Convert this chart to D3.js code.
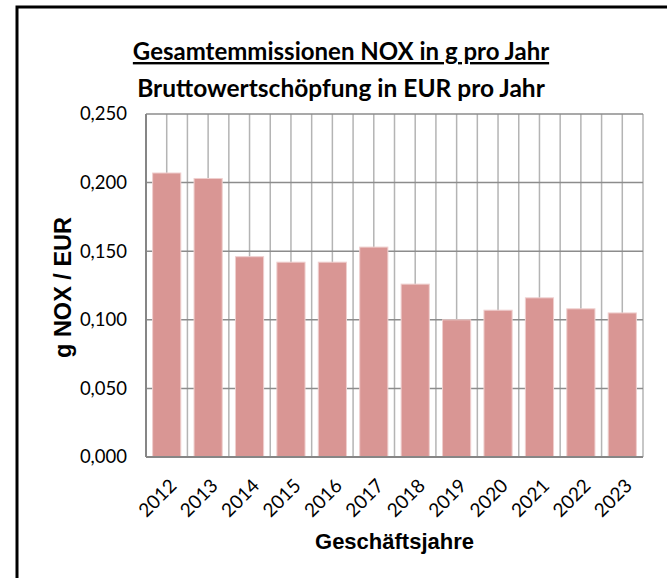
<!DOCTYPE html>
<html>
<head>
<meta charset="utf-8">
<script src="https://cdn.jsdelivr.net/npm/d3@7"></script>
<style>
  html, body { margin: 0; padding: 0; background: #fff; }
  svg { display: block; }
</style>
</head>
<body>
<div id="chart"></div>
<script>
// NOX emissions per euro of gross value added, by business year
const years = ["2012", "2013", "2014", "2015", "2016", "2017", "2018", "2019", "2020", "2021", "2022", "2023"];
const noxPerEur = [0.207, 0.203, 0.146, 0.142, 0.142, 0.153, 0.126, 0.100, 0.107, 0.116, 0.108, 0.105];
const yTicks = [0, 0.05, 0.10, 0.15, 0.20, 0.25];
const titleLines = ["Gesamtemmissionen NOX in g pro Jahr", "Bruttowertschöpfung in EUR pro Jahr"];
const yTitle = "g NOX / EUR";
const xTitle = "Geschäftsjahre";

const W = 667, H = 578;
const plot = { left: 146, right: 643, top: 114, bottom: 457 };
const uiFont = "Lato, 'Open Sans', sans-serif";
const boldFont = "'Liberation Sans', Arial, sans-serif";

const svg = d3.select("#chart").append("svg")
  .attr("width", W).attr("height", H);

svg.append("rect").attr("width", W).attr("height", H).attr("fill", "#fff");

// outer frame (left and top edges visible)
svg.append("path")
  .attr("d", `M17,${H} L17,7 L${W},7`)
  .attr("fill", "none").attr("stroke", "#000").attr("stroke-width", 3);

const x = d3.scaleBand().domain(years)
  .range([plot.left, plot.right])
  .paddingInner(0.32).paddingOuter(0.16);
const y = d3.scaleLinear().domain([0, 0.25]).range([plot.bottom, plot.top]);

const step = x.step();

// vertical grid: category boundaries and category centres
const g = svg.append("g");
const vLines = [];
years.forEach((yr, i) => {
  vLines.push(plot.left + i * step);
  vLines.push(x(yr) + x.bandwidth() / 2);
});
vLines.push(plot.right);
g.selectAll("line.v").data(vLines).join("line")
  .attr("class", "v")
  .attr("x1", d => d).attr("x2", d => d)
  .attr("y1", plot.top).attr("y2", plot.bottom)
  .attr("stroke", "#b4b4b4").attr("stroke-width", 1.5);

// horizontal grid
g.selectAll("line.h").data(yTicks.filter(t => t > 0)).join("line")
  .attr("class", "h")
  .attr("x1", plot.left).attr("x2", plot.right)
  .attr("y1", d => y(d)).attr("y2", d => y(d))
  .attr("stroke", "#8c8c8c").attr("stroke-width", 1.5);

// bars
svg.append("g").selectAll("rect").data(years).join("rect")
  .attr("x", (d) => x(d))
  .attr("width", x.bandwidth())
  .attr("y", (d, i) => y(noxPerEur[i]))
  .attr("height", (d, i) => plot.bottom - y(noxPerEur[i]))
  .attr("fill", "#d99694")
  .attr("stroke", "#efcfce").attr("stroke-width", 1);

// axis lines
svg.append("line")
  .attr("x1", plot.left).attr("x2", plot.left)
  .attr("y1", plot.top).attr("y2", plot.bottom)
  .attr("stroke", "#868686").attr("stroke-width", 2);
svg.append("line")
  .attr("x1", plot.left).attr("x2", plot.right)
  .attr("y1", plot.bottom).attr("y2", plot.bottom)
  .attr("stroke", "#868686").attr("stroke-width", 2);

// y axis labels
const fmt = v => d3.format(".3f")(v).replace(".", ",");
const yAxis = d3.axisLeft(y).tickValues(yTicks).tickFormat(fmt).tickSize(0).tickPadding(19);
const ya = svg.append("g").attr("transform", `translate(${plot.left},0)`).call(yAxis);
ya.select(".domain").remove();
ya.selectAll("text")
  .attr("font-family", uiFont).attr("font-size", 18.5).attr("fill", "#000");

// x axis labels, rotated
const xAxis = d3.axisBottom(x).tickSize(0).tickPadding(0);
const xa = svg.append("g").attr("transform", `translate(0,${plot.bottom})`).call(xAxis);
xa.select(".domain").remove();
xa.selectAll("text")
  .attr("font-family", uiFont).attr("font-size", 19).attr("fill", "#000")
  .attr("text-anchor", "end")
  .attr("dy", null).attr("y", null)
  .attr("transform", "translate(11,30) rotate(-45)");

// axis titles
svg.append("text")
  .attr("transform", `translate(71,${(plot.top + plot.bottom) / 2 + 2}) rotate(-90)`)
  .attr("text-anchor", "middle")
  .attr("font-family", boldFont).attr("font-weight", "bold").attr("font-size", 23.5)
  .text(yTitle);

svg.append("text")
  .attr("x", (plot.left + plot.right) / 2).attr("y", 549)
  .attr("text-anchor", "middle")
  .attr("font-family", boldFont).attr("font-weight", "bold").attr("font-size", 22)
  .text(xTitle);

// chart title
svg.append("text")
  .attr("x", 341).attr("y", 60)
  .attr("text-anchor", "middle")
  .attr("font-family", uiFont).attr("font-weight", "bold").attr("font-size", 24)
  .attr("text-decoration", "underline")
  .text(titleLines[0]);
svg.append("text")
  .attr("x", 341).attr("y", 97)
  .attr("text-anchor", "middle")
  .attr("font-family", uiFont).attr("font-weight", "bold").attr("font-size", 24.5)
  .text(titleLines[1]);
</script>
</body>
</html>
